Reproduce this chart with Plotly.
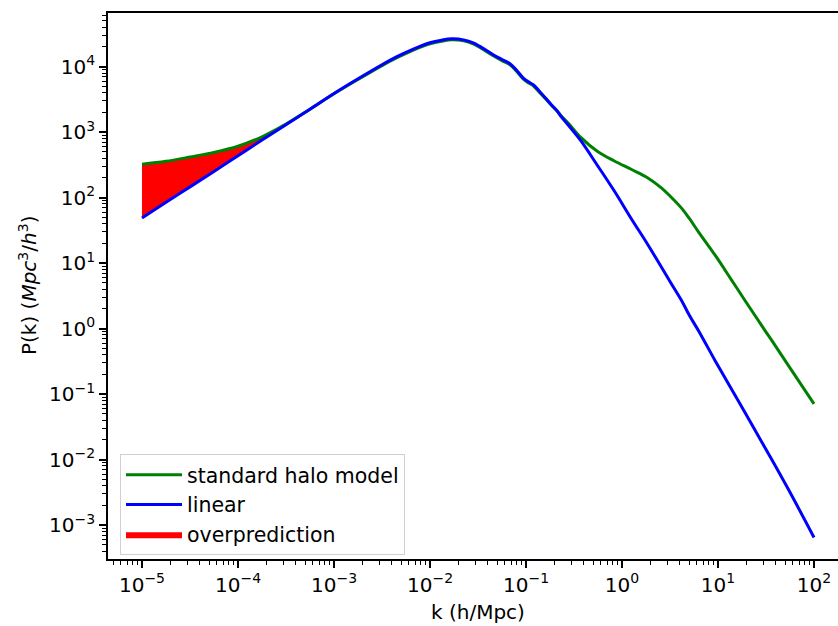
import plotly.graph_objects as go

# wavenumber k (h/Mpc)
k = [1.0e-5, 1.78e-5, 3.16e-5, 5.62e-5, 1.0e-4, 1.78e-4, 3.16e-4, 5.62e-4,
     1.0e-3, 1.78e-3, 3.16e-3, 4.47e-3, 6.61e-3, 1.0e-2, 1.32e-2, 1.70e-2,
     2.24e-2, 2.82e-2, 3.31e-2, 4.47e-2, 5.62e-2, 6.76e-2, 7.94e-2, 9.33e-2,
     0.107, 0.120, 0.141, 0.166, 0.186, 0.209, 0.229, 0.282, 0.372, 0.562,
     0.832, 1.26, 1.86, 2.57, 3.16, 4.17, 5.01, 6.31, 9.33, 13.8, 19.1, 30.9, 36.3,
     56.2, 100.0]

# linear power spectrum
P_linear = [49.0, 85.1, 146, 251, 437, 759, 1300, 2240,
            3890, 6530, 10700, 14100, 18400, 23200, 25400, 26600,
            25700, 23200, 20400, 15500, 12900, 11200, 8910, 6760,
            5820, 5250, 4070, 3130, 2570, 2140, 1780, 1230, 741, 302,
            126, 46.8, 19.1, 8.71, 5.25, 2.69, 1.61, 0.912, 0.324, 0.119, 0.0525,
            0.0151, 0.0100, 0.00316, 0.000646]

# standard halo model power spectrum
P_halo = [324, 359, 417, 490, 610, 851, 1330, 2240,
          3850, 6380, 10400, 13600, 17800, 22400, 24500, 25700,
          24800, 22400, 19700, 15000, 12400, 10800, 8610, 6530,
          5620, 5070, 3940, 3050, 2540, 2140, 1820, 1320, 832, 501,
          363, 269, 200, 141, 106, 69.2, 48.5, 29.5, 13.2, 5.56, 2.69,
          0.933, 0.661, 0.251, 0.0708]

# overprediction region: points where the halo model lies above linear (k <= 5.62e-4)
n_fill = 8

x_tickvals = [1e-5, 1e-4, 1e-3, 1e-2, 1e-1, 1e0, 1e1, 1e2]
x_ticktext = ["10<sup>\u22125</sup>", "10<sup>\u22124</sup>", "10<sup>\u22123</sup>",
              "10<sup>\u22122</sup>", "10<sup>\u22121</sup>", "10<sup>0</sup>",
              "10<sup>1</sup>", "10<sup>2</sup>"]
y_tickvals = [1e-3, 1e-2, 1e-1, 1e0, 1e1, 1e2, 1e3, 1e4]
y_ticktext = ["10<sup>\u22123</sup>", "10<sup>\u22122</sup>", "10<sup>\u22121</sup>",
              "10<sup>0</sup>", "10<sup>1</sup>", "10<sup>2</sup>",
              "10<sup>3</sup>", "10<sup>4</sup>"]

def minor_vals(lo, hi):
    out = []
    for e in range(lo, hi + 1):
        for m in range(2, 10):
            out.append(m * 10.0 ** e)
    return out

FONT = "DejaVu Sans"
fig = go.Figure()

# lower bound of fill (hidden)
fig.add_trace(go.Scatter(x=k[:n_fill], y=P_linear[:n_fill], mode="lines",
                         line=dict(width=0, shape="spline", color="rgba(0,0,0,0)"),
                         showlegend=False, hoverinfo="skip"))
fig.add_trace(go.Scatter(x=k[:n_fill], y=P_halo[:n_fill], mode="lines",
                         line=dict(width=0, shape="spline", color="#ff0000"),
                         fill="tonexty", fillcolor="#ff0000",
                         name="overprediction", legendrank=3))
fig.add_trace(go.Scatter(x=k, y=P_halo, mode="lines",
                         line=dict(color="#008000", width=3, shape="spline"),
                         name="standard halo model", legendrank=1))
fig.add_trace(go.Scatter(x=k, y=P_linear, mode="lines",
                         line=dict(color="#0000ff", width=3, shape="spline"),
                         name="linear", legendrank=2))

axis_common = dict(
    showgrid=False, zeroline=False, showline=True, linecolor="black", linewidth=1.6,
    ticks="outside", ticklen=7, tickwidth=1.6, tickcolor="black",
    tickfont=dict(family=FONT, size=20, color="black"),
    tickmode="array",
)

fig.update_xaxes(type="log", range=[-5.354, 2.25], tickvals=x_tickvals, ticktext=x_ticktext,
                 mirror=True,
                 minor=dict(tickmode="array", tickvals=minor_vals(-6, 2), ticks="outside",
                            ticklen=4, tickwidth=1.2, tickcolor="black", showgrid=False),
                 **axis_common)
fig.update_yaxes(type="log", range=[-3.519, 4.82], tickvals=y_tickvals, ticktext=y_ticktext,
                 minor=dict(tickmode="array", tickvals=minor_vals(-4, 4), ticks="outside",
                            ticklen=4, tickwidth=1.2, tickcolor="black", showgrid=False),
                 **axis_common)

fig.add_annotation(text="k (h/Mpc)", xref="paper", yref="paper",
                   x=(478 - 108) / 730, y=-(612 - 559) / 546, xanchor="center", yanchor="middle",
                   showarrow=False, font=dict(family=FONT, size=20, color="black"))
fig.add_annotation(text="P(k) (<i>Mpc</i><sup>3</sup>/<i>h</i><sup>3</sup>)",
                   xref="paper", yref="paper", x=(28 - 108) / 730, y=0.5,
                   xanchor="center", yanchor="middle", textangle=-90,
                   showarrow=False, font=dict(family=FONT, size=20, color="black"))

fig.update_layout(
    width=838, height=626,
    margin=dict(l=108, r=0, t=13, b=67),
    paper_bgcolor="white", plot_bgcolor="white",
    font=dict(family=FONT, size=20, color="black"),
    legend=dict(x=(120 - 108) / 730, y=(559 - 454) / 546, xanchor="left", yanchor="top",
                bgcolor="rgba(255,255,255,0.8)", bordercolor="#d0d0d0", borderwidth=1,
                itemwidth=56,
                font=dict(family=FONT, size=20.5, color="black"), traceorder="normal"),
)

fig.write_html("out.html", config={"displayModeBar": False},
               post_script="document.body.style.margin='0';document.body.style.overflow='hidden';")
